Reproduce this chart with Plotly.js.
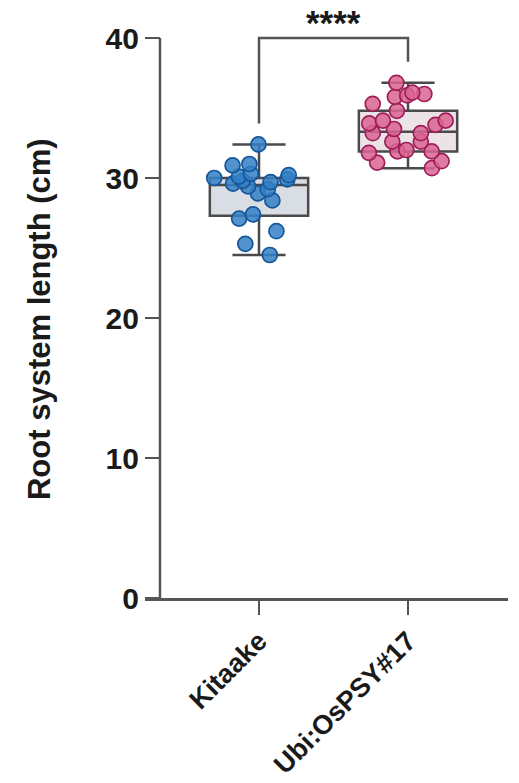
<!DOCTYPE html>
<html>
<head>
<meta charset="utf-8">
<script src="https://cdn.plot.ly/plotly-3.0.1.min.js"></script>
<style>html,body{margin:0;padding:0;background:#fff;}#chart{width:519px;height:783px;}</style>
</head>
<body>
<div id="chart"></div>
<script>
// ---- data ----
var categories = ['Kitaake', 'Ubi:OsPSY#17'];
var kitaakeValues = [32.4, 31.0, 30.9, 30.3, 30.2, 30.1, 30.0, 29.9, 29.8, 29.6, 29.4, 29.2, 28.9, 28.4, 27.4, 27.1, 26.2, 25.3, 24.5, 29.7];
var ubiValues = [36.8, 36.1, 36.0, 35.9, 35.3, 35.8, 34.8, 34.1, 34.1, 33.8, 33.9, 33.2, 33.2, 33.5, 32.6, 32.6, 31.9, 32.0, 31.8, 31.9, 31.1, 31.2, 30.7];
// box statistics (min, Q1, median, Q3, max) per group
var boxMin = [24.5, 30.7];
var boxQ1 = [27.3, 31.9];
var boxMedian = [29.5, 33.3];
var boxQ3 = [30.0, 34.8];
var boxMax = [32.4, 36.8];
var yTicks = [0, 10, 20, 30, 40];
var bracketY = [33.9, 40, 40, 38.3];
var sigLabel = '****';
var yTitle = 'Root system length (cm)';

var axisColor = '#555555';
var textColor = '#1a1a1a';
var fontFam = 'Liberation Sans, Arial, sans-serif';

var boxFill = ['#d9dde4', '#ece3e7'];
var markerFill = ['rgba(52,128,198,0.85)', 'rgba(218,100,146,0.85)'];
var markerLine = ['#15579a', '#9e1f57'];
var groups = [kitaakeValues, ubiValues];

var traces = [];
for (var i = 0; i < categories.length; i++) {
  traces.push({
    type: 'box', x: [categories[i]],
    q1: [boxQ1[i]], median: [boxMedian[i]], q3: [boxQ3[i]],
    lowerfence: [boxMin[i]], upperfence: [boxMax[i]],
    width: 0.66, whiskerwidth: 0.54,
    fillcolor: boxFill[i], line: {color: '#4a4a4a', width: 2.5},
    boxpoints: false, showlegend: false, hoverinfo: 'skip'
  });
}
for (var j = 0; j < categories.length; j++) {
  traces.push({
    type: 'box', x: groups[j].map(function(){return categories[j];}), y: groups[j],
    width: 0.66, whiskerwidth: 0,
    boxpoints: 'all', jitter: 1, pointpos: 0,
    fillcolor: 'rgba(0,0,0,0)', line: {color: 'rgba(0,0,0,0)', width: 0},
    marker: {size: 15, color: markerFill[j], line: {color: markerLine[j], width: 1.7}},
    showlegend: false
  });
}
traces.push({
  type: 'scatter', mode: 'lines',
  x: [categories[0], categories[0], categories[1], categories[1]],
  y: bracketY,
  line: {color: axisColor, width: 2.5},
  showlegend: false, hoverinfo: 'skip'
});

var layout = {
  width: 519, height: 783,
  margin: {l: 145, r: 11, t: 10, b: 185},
  paper_bgcolor: '#ffffff', plot_bgcolor: '#ffffff',
  boxmode: 'overlay',
  font: {family: fontFam, color: textColor},
  xaxis: {
    type: 'category', categoryorder: 'array', categoryarray: categories,
    range: [-0.765, 1.671],
    showgrid: false, zeroline: false,
    showline: true, linecolor: axisColor, linewidth: 2.5,
    ticks: 'outside', ticklen: 14, tickwidth: 2.5, tickcolor: axisColor,
    tickangle: -45,
    tickfont: {family: fontFam, size: 27, weight: 'bold', color: textColor}
  },
  yaxis: {
    range: [0, 42], anchor: 'free', position: 0.0413,
    tickvals: yTicks, ticktext: yTicks.map(String),
    showgrid: false, zeroline: false, showline: false,
    ticks: 'outside', ticklen: 15, tickwidth: 2.5, tickcolor: axisColor,
    tickfont: {family: fontFam, size: 30, weight: 'bold', color: textColor}
  },
  shapes: [{
    type: 'line', xref: 'paper', yref: 'y',
    x0: 0.0413, x1: 0.0413, y0: 0, y1: 40,
    line: {color: axisColor, width: 2.5}
  }],
  annotations: [{
    text: yTitle, xref: 'paper', yref: 'paper',
    x: -0.29, y: 0.474, textangle: -90, showarrow: false,
    xanchor: 'center', yanchor: 'middle',
    font: {family: fontFam, size: 31, weight: 'bold', color: textColor}
  }, {
    text: sigLabel, xref: 'x', yref: 'y', x: 0.5, y: 40,
    showarrow: false, xanchor: 'center', yanchor: 'bottom', yshift: -6,
    font: {family: fontFam, size: 35, weight: 'bold', color: textColor}
  }]
};

Plotly.newPlot('chart', traces, layout, {displayModeBar: false, staticPlot: true});
</script>
</body>
</html>
